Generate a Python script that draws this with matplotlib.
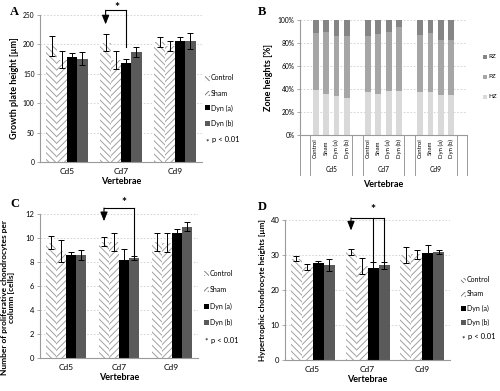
import matplotlib
matplotlib.use('Agg')
import matplotlib.pyplot as plt
from matplotlib.patches import Rectangle
import numpy as np

plt.rcParams['font.family'] = ['Lato', 'DejaVu Sans']
plt.rcParams['hatch.linewidth'] = 0.7

# ---------------- data ----------------
vertebrae = ['Cd5', 'Cd7', 'Cd9']
groups = ['Control', 'Sham', 'Dyn (a)', 'Dyn (b)']

# Panel A: growth plate height [um]
gp_control = [198, 203, 204]
gp_sham = [174, 173, 197]
gp_dyn_a = [178, 169, 205]
gp_dyn_b = [176, 187, 206]
gp_control_err = [17, 14, 8]
gp_sham_err = [14, 15, 8]
gp_dyn_a_err = [8, 7, 7]
gp_dyn_b_err = [11, 9, 13]

# Panel B: zone heights [%]
zone_labels = ['HZ', 'PZ', 'RZ']
hz = [39, 36, 34, 32.5, 37.5, 35.5, 38, 38, 37, 37, 35, 35]
pz = [49.5, 54, 52.5, 54, 49, 52.5, 51.5, 56, 50, 52, 48, 48]
rz = [11.5, 10, 13.5, 13.5, 13.5, 12, 10.5, 6, 13, 11, 17, 17]

# Panel C: proliferative chondrocytes per column [cells]
pc_control = [9.6, 9.7, 9.65]
pc_sham = [8.9, 9.7, 9.6]
pc_dyn_a = [8.55, 8.2, 10.4]
pc_dyn_b = [8.6, 8.35, 10.95]
pc_control_err = [0.55, 0.35, 0.75]
pc_sham_err = [0.9, 0.75, 0.8]
pc_dyn_a_err = [0.25, 0.85, 0.35]
pc_dyn_b_err = [0.4, 0.15, 0.4]

# Panel D: hypertrophic chondrocyte heights [um]
hc_control = [29.0, 30.8, 30.0]
hc_sham = [26.5, 26.9, 30.2]
hc_dyn_a = [27.6, 26.3, 30.5]
hc_dyn_b = [27.1, 27.1, 30.9]
hc_control_err = [0.8, 0.8, 2.4]
hc_sham_err = [0.9, 2.2, 1.2]
hc_dyn_a_err = [0.8, 1.7, 2.4]
hc_dyn_b_err = [1.8, 1.0, 0.6]

# ---------------- styles ----------------
HATCH_C = '#a0a0a0'
styles = [
    dict(facecolor='white', edgecolor=HATCH_C, hatch='\\\\\\\\\\', linewidth=0),
    dict(facecolor='white', edgecolor=HATCH_C, hatch='/////', linewidth=0),
    dict(facecolor='#000000', edgecolor='#000000', linewidth=0),
    dict(facecolor='#5a5a5a', edgecolor='#5a5a5a', linewidth=0),
]
legend_styles = [
    dict(facecolor='white', edgecolor='#808080', hatch='\\\\\\\\\\\\\\', linewidth=0),
    dict(facecolor='white', edgecolor='#808080', hatch='///////', linewidth=0),
    styles[2],
    styles[3],
]
zone_colors = ['#d9d9d9', '#a6a6a6', '#858585']
GRID_C = '#cfcfcf'
SPINE_C = '#9a9a9a'

W, H = 500, 391
fig = plt.figure(figsize=(W / 100, H / 100), dpi=100)


def ax_px(l, t, r, b):
    return fig.add_axes([l / W, 1 - b / H, (r - l) / W, (b - t) / H])


def fxy(x, y):
    return x / W, 1 - y / H


def style_axes(ax, tick_fs):
    for s in ['top', 'right']:
        ax.spines[s].set_visible(False)
    ax.spines['left'].set_color(SPINE_C)
    ax.spines['bottom'].set_color(SPINE_C)
    ax.spines['left'].set_linewidth(0.8)
    ax.spines['bottom'].set_linewidth(0.8)
    ax.tick_params(axis='y', length=2, width=0.6, color=SPINE_C, labelsize=tick_fs, pad=2)
    ax.tick_params(axis='x', length=0, pad=4)
    ax.yaxis.grid(True, color=GRID_C, linestyle=(0, (2, 2)), linewidth=0.6)
    ax.set_axisbelow(True)


def grouped(ax, means, errs, width, ymax, ystep, ylabel, ylab_fs, tick_fs, xlab_fs):
    x = np.arange(len(vertebrae))
    for j, (m, e) in enumerate(zip(means, errs)):
        pos = x + (j - 1.5) * width
        ax.bar(pos, m, width, **styles[j], zorder=2)
        ax.errorbar(pos, m, yerr=e, fmt='none', ecolor='black', elinewidth=0.7,
                    capsize=2.3, capthick=0.7, zorder=3)
    ax.set_xlim(-0.5, 2.5)
    ax.set_ylim(0, ymax)
    ax.set_yticks(np.arange(0, ymax + ystep / 2, ystep))
    ax.set_xticks(x)
    ax.set_xticklabels(vertebrae, fontsize=xlab_fs)
    style_axes(ax, tick_fs)
    ax.set_ylabel(ylabel, fontsize=ylab_fs, fontweight='bold', labelpad=3)
    ax.set_xlabel('Vertebrae', fontsize=6.5, fontweight='bold', labelpad=2)


def legend_px(hx, tx, ys, fs):
    for j, y in enumerate(ys[:4]):
        fx0, fy0 = fxy(hx - 2.5, y + 2.5)
        r = Rectangle((fx0, fy0), 5 / W, 5 / H, transform=fig.transFigure,
                      **legend_styles[j])
        fig.add_artist(r)
        fig.text(*fxy(tx, y), groups[j], fontsize=fs, va='center', ha='left')
    fig.text(*fxy(hx, ys[4] + 1.5), '*', fontsize=fs + 1, va='center', ha='center')
    fig.text(*fxy(tx + 1, ys[4]), 'p < 0.01', fontsize=fs + 0.5, va='center', ha='left')


def bracket(ax, x_arrow, x_others, y_top, y_tip, y_ends, y_star, x_star):
    xs = [x_arrow] + list(x_others)
    ax.plot([min(xs), max(xs)], [y_top, y_top], color='black', lw=0.8, clip_on=False, zorder=4)
    for xo, ye in zip(x_others, y_ends):
        ax.plot([xo, xo], [y_top, ye], color='black', lw=0.8, clip_on=False, zorder=4)
    ax.annotate('', xy=(x_arrow, y_tip), xytext=(x_arrow, y_top),
                arrowprops=dict(arrowstyle='-|>,head_width=0.22,head_length=0.55',
                                color='black', lw=0.8, shrinkA=0, shrinkB=0),
                annotation_clip=False, zorder=4)
    ax.text(x_star, y_star, '*', fontsize=8.5, ha='center', va='center', fontweight='bold',
            clip_on=False)


# ---------------- Panel A ----------------
wA = 0.19
axA = ax_px(40, 15, 202, 162)
grouped(axA,
        [gp_control, gp_sham, gp_dyn_a, gp_dyn_b],
        [gp_control_err, gp_sham_err, gp_dyn_a_err, gp_dyn_b_err],
        wA, 250, 50, 'Growth plate height [µm]', 6.5, 4.8, 6)
bracket(axA, 1 - 1.5 * wA, [1 + 0.5 * wA], 258, 234, [195], 262, 1 - 0.5 * wA + 0.02)
legend_px(207, 211, [78, 93, 108, 123, 140], 5)
fig.text(*fxy(10, 12), 'A', fontsize=9, fontweight='bold', family='Liberation Serif',
         va='center', ha='left')

# ---------------- Panel B ----------------
axB = ax_px(300, 20, 467, 135)
bpos = np.array([1, 2, 3, 4, 6, 7, 8, 9, 11, 12, 13, 14])
bottom = np.zeros(len(bpos))
for vals, col, lab in zip([hz, pz, rz], zone_colors, zone_labels):
    axB.bar(bpos, vals, 0.55, bottom=bottom, color=col, linewidth=0, zorder=2, label=lab)
    bottom = bottom + np.array(vals)
axB.set_xlim(-0.5, 15.5)
axB.set_ylim(0, 100)
axB.set_yticks(np.arange(0, 101, 20))
axB.set_yticklabels([f'{v}%' for v in range(0, 101, 20)])
axB.set_xticks([])
style_axes(axB, 4.8)
axB.set_ylabel('Zone heights [%]', fontsize=6.5, fontweight='bold', labelpad=3)
trB = axB.get_xaxis_transform()
for xs in [-0.5, 0.5, 4.5, 5.5, 9.5, 10.5, 14.5, 15.5]:
    axB.plot([xs, xs], [0, -0.35], color=SPINE_C, lw=0.7, transform=trB, clip_on=False)
for p in range(len(bpos)):
    axB.text(bpos[p], -0.115, groups[p % 4], rotation=90, fontsize=4.3,
             ha='center', va='center', transform=trB)
for g, c in zip(vertebrae, [2.5, 7.5, 12.5]):
    axB.text(c, -0.30, g, fontsize=4.8, ha='center', va='center', transform=trB)
axB.text(7.5, -0.43, 'Vertebrae', fontsize=6.5, fontweight='bold', ha='center',
         va='center', transform=trB)
for lab, col, y in zip(['RZ', 'PZ', 'HZ'], zone_colors[::-1], [57, 77, 97]):
    fx0, fy0 = fxy(483, y + 2)
    fig.add_artist(Rectangle((fx0, fy0), 4 / W, 4 / H, transform=fig.transFigure,
                             color=col, linewidth=0))
    fig.text(*fxy(488, y), lab, fontsize=4.5, va='center', ha='left')
fig.text(*fxy(258, 12), 'B', fontsize=9, fontweight='bold', family='Liberation Serif',
         va='center', ha='left')

# ---------------- Panel C ----------------
wC = 0.19
axC = ax_px(40, 214, 198, 358)
grouped(axC,
        [pc_control, pc_sham, pc_dyn_a, pc_dyn_b],
        [pc_control_err, pc_sham_err, pc_dyn_a_err, pc_dyn_b_err],
        wC, 12, 2, 'Number of proliferative chondrocytes per\ncolumn [cells]', 6.0, 5.5, 6)
axC.yaxis.label.set_linespacing(1.0)
axC.yaxis.set_label_coords(-0.16, 0.42)
bracket(axC, 1 - 1.5 * wC, [1 + 1.5 * wC], 12.5, 11.4, [8.6], 12.95, 1 + 0.1)
legend_px(206, 210, [273, 289, 306, 322, 340], 5)
fig.text(*fxy(10, 204), 'C', fontsize=9, fontweight='bold', family='Liberation Serif',
         va='center', ha='left')

# ---------------- Panel D ----------------
wD = 0.2
axD = ax_px(285, 220, 450, 360)
grouped(axD,
        [hc_control, hc_sham, hc_dyn_a, hc_dyn_b],
        [hc_control_err, hc_sham_err, hc_dyn_a_err, hc_dyn_b_err],
        wD, 40, 10, 'Hypertrophic chondrocyte heights [µm]', 5.8, 5.5, 6)
bracket(axD, 1 - 1.5 * wD, [1 + 0.5 * wD, 1 + 1.5 * wD], 40.6, 37.0, [28.1, 28.1], 42.9,
        1 + 0.5 * wD)
legend_px(463, 467, [280, 294, 308, 322, 337], 5)
fig.text(*fxy(258, 207), 'D', fontsize=9, fontweight='bold', family='Liberation Serif',
         va='center', ha='left')

fig.savefig('out.png', dpi=100)
